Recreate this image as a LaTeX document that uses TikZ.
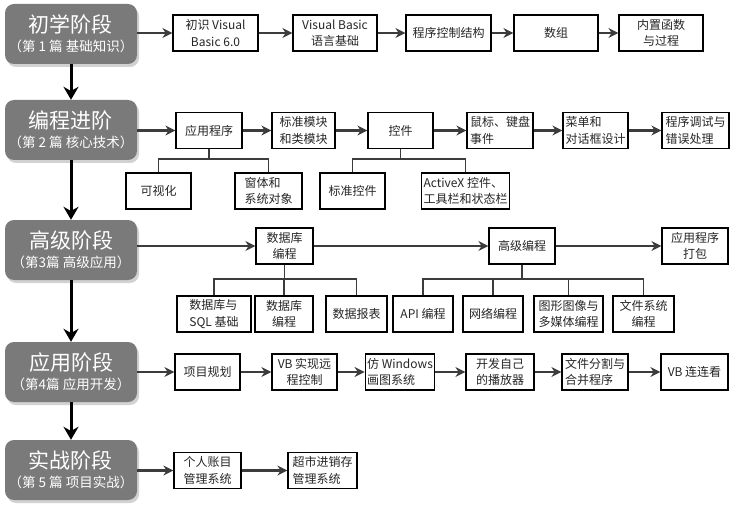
\documentclass[tikz,border=0pt]{standalone}
\usepackage{fontspec}
\setmainfont{Noto Sans CJK SC}
\usetikzlibrary{arrows.meta, shadows}
\definecolor{stagegray}{RGB}{122,122,122}
\definecolor{linkgray}{RGB}{60,60,60}

\begin{document}
\begin{tikzpicture}[x=1pt, y=-1pt,
  stagebox/.style={fill=stagegray, rounded corners=9pt, text=white, align=center,
    minimum width=132pt, minimum height=60pt, inner sep=0pt,
    drop shadow={shadow xshift=2pt, shadow yshift=-3pt, fill=black!35}},
  itembox/.style={draw=black, line width=1.2pt, fill=white, text=black!85,
    minimum height=36pt, inner sep=2pt, font=\fontsize{12}{16.5}\selectfont},
  flow/.style={line width=2.2pt, draw=linkgray, -{Stealth[length=10pt, width=10pt]}},
  godown/.style={line width=3pt, -{Stealth[length=13pt, width=15pt]}},
  tree/.style={line width=1.8pt, draw=linkgray}]
  \useasboundingbox (0,0) rectangle (741,513);
  % stages
  \foreach \n/\y/\t/\s in {s1/34/初学阶段/{（第 1 篇 基础知识）},
                           s2/130/编程进阶/{（第 2 篇 核心技术）},
                           s3/250/高级阶段/{（第3篇 高级应用）},
                           s4/372/应用阶段/{（第4篇 应用开发）},
                           s5/470/实战阶段/{（第 5 篇 项目实战）}}
    \node[stagebox] (\n) at (71,\y) {{\fontsize{21}{26}\selectfont \t}\\[5pt]{\fontsize{13.5}{16}\selectfont \s}};
  \foreach \a/\b in {s1/s2, s2/s3, s3/s4, s4/s5}
    \draw[godown] (\a) -- (\b);
  % row 1
  \foreach \n/\x/\w/\al/\t in {r1a/215.5/85/center/{初识 Visual\\Basic 6.0},
                               r1b/335/84/center/{Visual Basic\\语言基础},
                               r1c/448.5/85/center/程序控制结构,
                               r1d/556/84/center/数组,
                               r1e/661/84/center/{内置函数\\与过程}}
    \node[itembox, minimum width=\w pt, align=\al] (\n) at (\x,33) {\t};
  % row 2
  \foreach \n/\x/\w/\al/\t in {r2a/209/66/center/应用程序,
                               r2b/303.5/63/left/{标准模块\\和类模块},
                               r2c/400.5/65/center/控件,
                               r2d/500/66/left/{鼠标、键盘\\事件},
                               r2e/595.5/65/left/{菜单和\\对话框设计},
                               r2f/695.5/67/left/{程序调试与\\错误处理}}
    \node[itembox, minimum width=\w pt, align=\al] (\n) at (\x,130.5) {\t};
  \foreach \n/\x/\w/\al/\t in {c1/158.5/65/center/可视化,
                               c2/268.5/67/left/{窗体和\\系统对象},
                               c3/352.5/65/center/标准控件,
                               c4/465.5/83/left/{ActiveX 控件、\\工具栏和状态栏}}
    \node[itembox, minimum width=\w pt, align=\al] (\n) at (\x,191) {\t};
  % row 3
  \foreach \n/\x/\w/\al/\t in {r3a/284.5/57/center/{数据库\\编程},
                               r3b/522/66/center/高级编程,
                               r3c/695/66/center/{应用程序\\打包}}
    \node[itembox, minimum width=\w pt, align=\al] (\n) at (\x,246) {\t};
  \foreach \n/\x/\w/\al/\t in {d1/214/74/left/{数据库与\\SQL 基础},
                               d2/284/58/center/{数据库\\编程},
                               d3/356.5/61/center/数据报表,
                               d4/423/60/center/API 编程,
                               d5/493/60/center/网络编程,
                               d6/568.5/69/center/{图形图像与\\多媒体编程},
                               d7/643.5/61/center/{文件系统\\编程}}
    \node[itembox, minimum width=\w pt, align=\al] (\n) at (\x,314) {\t};
  % row 4
  \foreach \n/\x/\w/\al/\t in {r4a/207.5/65/center/项目规划,
                               r4b/304.5/65/center/{VB 实现远\\程控制},
                               r4c/400/66/left/{仿 Windows\\画图系统},
                               r4d/500/68/center/{开发自己\\的播放器},
                               r4e/595/66/left/{文件分割与\\合并程序},
                               r4f/694.5/67/center/VB 连连看}
    \node[itembox, minimum width=\w pt, align=\al] (\n) at (\x,372) {\t};
  % row 5
  \foreach \n/\x/\w/\al/\t in {r5a/207.5/67/center/{个人账目\\管理系统},
                               r5b/322.5/69/left/{超市进销存\\管理系统}}
    \node[itembox, minimum width=\w pt, align=\al] (\n) at (\x,470.5) {\t};
  % links
  \foreach \s/\r in {s1/r1a, s2/r2a, s3/r3a, s4/r4a, s5/r5a}
    \draw[flow] (\s.east |- \r) -- (\r);
  \foreach \a/\b in {r1a/r1b, r1b/r1c, r1c/r1d, r1d/r1e,
                     r2a/r2b, r2b/r2c, r2c/r2d, r2d/r2e, r2e/r2f,
                     r3a/r3b, r3b/r3c,
                     r4a/r4b, r4b/r4c, r4c/r4d, r4d/r4e, r4e/r4f,
                     r5a/r5b}
    \draw[flow] (\a) -- (\b);
  \foreach \p/\c/\d in {r2a/c1/10, r2a/c2/10, r2c/c3/10, r2c/c4/10,
                        r3a/d1/14, r3a/d2/14, r3a/d3/14,
                        r3b/d4/14, r3b/d5/14, r3b/d6/14, r3b/d7/14}
    \draw[tree] (\p.south) -- ++(0,\d) -| (\c.north);
\end{tikzpicture}
\end{document}
